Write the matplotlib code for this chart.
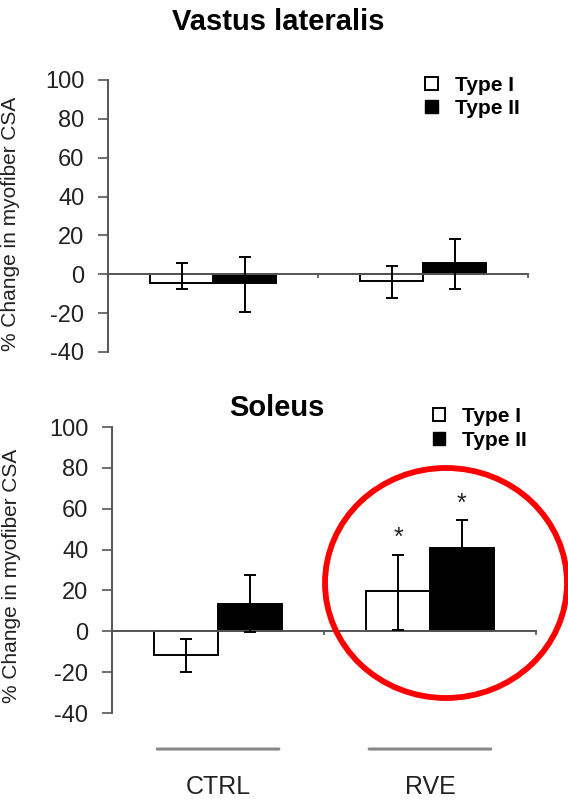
import matplotlib
matplotlib.use("Agg")
import matplotlib.pyplot as plt
from matplotlib.patches import Patch, Ellipse

plt.rcParams["font.family"] = ["Liberation Sans", "DejaVu Sans"]

# --- dados ---
grupos = ["CTRL", "RVE"]
series = ["Type I", "Type II"]

# Vastus lateralis
vl_tipo1 = [-4.5, -3.5]
vl_tipo1_sup = [10.5, 8.0]
vl_tipo1_inf = [3.2, 8.5]
vl_tipo2 = [-4.5, 6.0]
vl_tipo2_sup = [13.5, 12.0]
vl_tipo2_inf = [15.0, 13.5]

# Soleus
sol_tipo1 = [-11.5, 19.5]
sol_tipo1_sup = [7.5, 18.0]
sol_tipo1_inf = [8.5, 19.0]
sol_tipo2 = [13.5, 41.0]
sol_tipo2_sup = [14.0, 13.5]
sol_tipo2_inf = [14.0, 13.5]

sol_sig_tipo1 = ["", "*"]
sol_sig_tipo2 = ["", "*"]

yticks = [-40, -20, 0, 20, 40, 60, 80, 100]

W = 568
H = 800
fig = plt.figure(figsize=(W / 100, H / 100), dpi=100)


def painel(ax, t1, t1s, t1i, t2, t2s, t2i, leg_pos, sig1=None, sig2=None):
    centros = [0.5 + i for i in range(len(grupos))]
    larg = 0.3
    x1 = [c - larg / 2 for c in centros]
    x2 = [c + larg / 2 for c in centros]
    ax.bar(x1, t1, width=larg, color="white", edgecolor="black", linewidth=1.4, zorder=2)
    ax.bar(x2, t2, width=larg, color="black", edgecolor="black", linewidth=1.4, zorder=2)
    ax.errorbar(x1, t1, yerr=[t1i, t1s], fmt="none", ecolor="black",
                elinewidth=1.4, capsize=4.5, capthick=1.4, zorder=3)
    ax.errorbar(x2, t2, yerr=[t2i, t2s], fmt="none", ecolor="black",
                elinewidth=1.4, capsize=4.5, capthick=1.4, zorder=3)
    if sig1:
        for x, v, s, txt in zip(x1, t1, t1s, sig1):
            if txt:
                ax.text(x, v + s + 8, txt, ha="center", va="center", fontsize=18, color="#222222")
    if sig2:
        for x, v, s, txt in zip(x2, t2, t2s, sig2):
            if txt:
                ax.text(x, v + s + 8, txt, ha="center", va="center", fontsize=18, color="#222222")

    ax.set_xlim(0, len(grupos))
    ax.set_ylim(-40, 100)
    ax.set_yticks(yticks)
    ax.set_yticklabels([str(v) for v in yticks], fontsize=17, color="#222222")
    ax.tick_params(axis="y", length=7, width=1.2, pad=10, color="#555555")
    ax.set_xticks([0, 1, 2])
    ax.set_xticklabels([])
    ax.tick_params(axis="x", length=3, width=1.2, direction="out", color="#555555")
    ax.spines["top"].set_visible(False)
    ax.spines["right"].set_visible(False)
    ax.spines["bottom"].set_position(("data", 0))
    ax.spines["bottom"].set_color("#555555")
    ax.spines["left"].set_color("#555555")
    ax.spines["bottom"].set_linewidth(1.4)
    ax.spines["left"].set_linewidth(1.4)
    ax.set_ylabel("% Change in myofiber CSA", fontsize=15, color="#222222")

    handles = [Patch(facecolor="white", edgecolor="black", linewidth=1.4),
               Patch(facecolor="black", edgecolor="black")]
    ax.legend(handles, series, loc="upper left", bbox_to_anchor=leg_pos,
              frameon=False, handlelength=0.6, handleheight=0.6,
              handletextpad=0.8, labelspacing=0.22,
              prop={"weight": "bold", "size": 15})
    return centros


# --- Vastus lateralis ---
ax1 = fig.add_axes([108 / W, 1 - 352 / H, 420 / W, 272 / H])
painel(ax1, vl_tipo1, vl_tipo1_sup, vl_tipo1_inf, vl_tipo2, vl_tipo2_sup, vl_tipo2_inf,
       (0.711, 1.085))
ax1.yaxis.set_label_coords(-0.21, 0.47)
fig.text(278 / W, 1 - 22 / H, "Vastus lateralis", ha="center", va="center",
         fontsize=21, fontweight="bold")

# --- Soleus ---
ax2 = fig.add_axes([112 / W, 1 - 713 / H, 424 / W, 286 / H])
centros = painel(ax2, sol_tipo1, sol_tipo1_sup, sol_tipo1_inf, sol_tipo2,
                 sol_tipo2_sup, sol_tipo2_inf, (0.712, 1.135),
                 sol_sig_tipo1, sol_sig_tipo2)
ax2.yaxis.set_label_coords(-0.215, 0.48)
fig.text(277 / W, 1 - 408 / H, "Soleus", ha="center", va="center",
         fontsize=21, fontweight="bold")

# linhas e rótulos dos grupos
for c, g in zip(centros, grupos):
    ax2.annotate("", xy=(c + 0.3, -0.126), xytext=(c - 0.3, -0.126),
                 xycoords=("data", "axes fraction"),
                 arrowprops=dict(arrowstyle="-", color="#888888", lw=2.2))
    ax2.annotate(g, xy=(c, -0.259), xycoords=("data", "axes fraction"),
                 ha="center", va="center", fontsize=18, color="#222222",
                 annotation_clip=False)

# círculo vermelho
circ = Ellipse((446 / W, 1 - 583 / H), 242 / W, 230 / H, transform=fig.transFigure,
               fill=False, edgecolor="#ff0000", linewidth=4.2, zorder=10)
fig.add_artist(circ)

fig.savefig("out.png", dpi=100)
